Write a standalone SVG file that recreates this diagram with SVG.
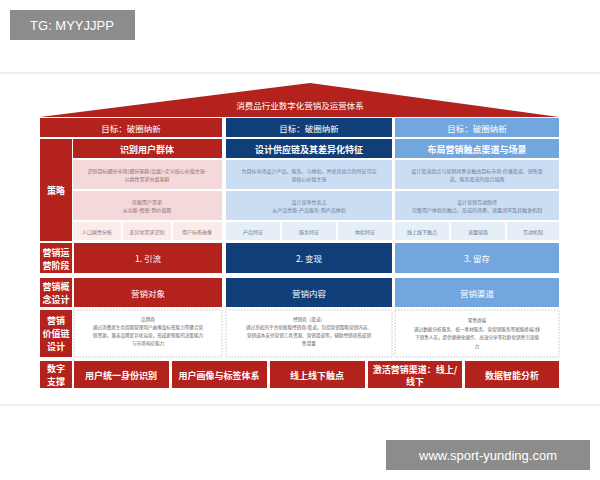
<svg xmlns="http://www.w3.org/2000/svg" width="600" height="480" viewBox="0 0 600 480">
<style>
text{font-family:"Noto Sans CJK SC","Liberation Sans",sans-serif;text-anchor:middle;dominant-baseline:central}
.r{fill:#b3221d}.n{fill:#103e78}.b{fill:#72a6de}
.w{fill:#fff;font-weight:bold;font-size:9px}
.h{fill:#fff;font-size:8.5px}
.s{font-size:5px;fill:#8a6f70}
.sb{font-size:5px;fill:#6d7f95}
.pk{fill:#f5d8d9}.pk2{fill:#fbecec}.lb{fill:#cbddf3}.lb2{fill:#e6eef8}.lb3{fill:#dce8f6}
.d{fill:#fff;stroke:#b8b8b8;stroke-width:0.8;stroke-dasharray:1.5 1.5}
.vt{font-size:4.6px;fill:#666}
</style>
<rect width="600" height="480" fill="#fff"/>
<line x1="0" y1="73" x2="600" y2="73" stroke="#ddd"/>
<line x1="0" y1="405" x2="600" y2="405" stroke="#ddd"/>
<g id="roof"><polygon points="40,117 310,83 559,117" class="r"/><text x="300" y="105" class="h" font-size="7">消费品行业数字化营销及运营体系</text></g>
<g id="goals">
<rect x="40" y="118" width="182" height="19" class="r"/><text x="131" y="128" class="h">目标：破圈纳新</text>
<rect x="226" y="118" width="166" height="19" class="n"/><text x="309" y="128" class="h">目标：破圈纳新</text>
<rect x="395" y="118" width="164" height="19" class="b"/><text x="477" y="128" class="h">目标：破圈纳新</text>
</g>
<g id="strategy">
<rect x="40" y="139" width="32" height="102" class="r"/><text x="56" y="190" class="w">策略</text>
<rect x="73" y="139" width="149" height="19" class="r"/><text x="147" y="149" class="w">识别用户群体</text>
<rect x="73" y="160" width="149" height="29" class="pk"/>
<text x="147" y="170" class="s">识别目标细分市场(细分客群/品类)-定义核心价值主张-</text><text x="147" y="178" class="s">以共性需求分类客群</text>
<rect x="73" y="191" width="149" height="29" class="pk"/>
<text x="147" y="201" class="s">挖掘用户需求</text><text x="147" y="209" class="s">从功能-情感-到价值观</text>
<rect x="73" y="222" width="48" height="18" class="pk2"/><text x="97" y="231" class="s">人口属性分析</text>
<rect x="123" y="222" width="48" height="18" class="pk2"/><text x="147" y="231" class="s">差异化需求识别</text>
<rect x="173" y="222" width="49" height="18" class="pk2"/><text x="197" y="231" class="s">用户标签画像</text>
<rect x="226" y="139" width="166" height="19" class="n"/><text x="309" y="149" class="w">设计供应链及其差异化特征</text>
<rect x="226" y="160" width="166" height="29" class="lb"/>
<text x="309" y="170" class="sb">为目标市场设计产品、服务、与体验，并使其组合的特征可实</text><text x="309" y="178" class="sb">现核心价值主张</text>
<rect x="226" y="191" width="166" height="29" class="lb"/>
<text x="309" y="201" class="sb">设计竞争性卖点</text><text x="309" y="209" class="sb">从产品性能-产品服务-到产品体验</text>
<rect x="226" y="222" width="54" height="18" class="lb2"/><text x="253" y="231" class="sb">产品特征</text>
<rect x="282" y="222" width="54" height="18" class="lb2"/><text x="309" y="231" class="sb">服务特征</text>
<rect x="338" y="222" width="54" height="18" class="lb2"/><text x="365" y="231" class="sb">体验特征</text>
<rect x="395" y="139" width="164" height="19" class="b"/><text x="477" y="149" class="w">布局营销触点渠道与场景</text>
<rect x="395" y="160" width="164" height="29" class="lb"/>
<text x="477" y="170" class="sb">设计渠道组合与营销场景来触达目标市场-传播渠道、销售渠</text><text x="477" y="178" class="sb">道、服务渠道的组合链路</text>
<rect x="395" y="191" width="164" height="29" class="lb"/>
<text x="477" y="201" class="sb">设计营销互动路径</text><text x="477" y="209" class="sb">完整用户体验的触点、形成的场景、流量闭环及其触发机制</text>
<rect x="395" y="222" width="54" height="18" class="lb2"/><text x="422" y="231" class="sb">线上线下触点</text>
<rect x="451" y="222" width="54" height="18" class="lb2"/><text x="478" y="231" class="sb">流量链路</text>
<rect x="507" y="222" width="52" height="18" class="lb2"/><text x="533" y="231" class="sb">互动机制</text>
</g>
<g id="stage">
<rect x="40" y="243" width="32" height="30" class="r"/><text x="56" y="252" class="w">营销运</text><text x="56" y="265" class="w">营阶段</text>
<rect x="74" y="243" width="148" height="30" class="r"/><text x="148" y="258" class="h">1. 引流</text>
<rect x="226" y="243" width="166" height="30" class="n"/><text x="309" y="258" class="h">2. 变现</text>
<rect x="395" y="243" width="164" height="30" class="b"/><text x="477" y="258" class="h">3. 留存</text>
</g>
<g id="concept">
<rect x="40" y="278" width="32" height="29" class="r"/><text x="56" y="286" class="w">营销概</text><text x="56" y="299" class="w">念设计</text>
<rect x="74" y="278" width="148" height="29" class="r"/><text x="148" y="293" class="h">营销对象</text>
<rect x="226" y="278" width="166" height="29" class="n"/><text x="309" y="293" class="h">营销内容</text>
<rect x="395" y="278" width="164" height="29" class="b"/><text x="477" y="293" class="h">营销渠道</text>
</g>
<g id="valuechain">
<rect x="40" y="310" width="32" height="47" class="r"/><text x="56" y="320" class="w">营销</text><text x="56" y="333" class="w">价值链</text><text x="56" y="346" class="w">设计</text>
<rect x="74" y="310" width="148" height="47" class="d"/>
<text x="148" y="319" class="vt">品牌商</text><text x="148" y="327" class="vt">通过消费者生命周期管理用户画像及标签能力等聚合营</text><text x="148" y="335" class="vt">销资源，兼容品牌差异化运营，形成更智能的决策能力</text><text x="148" y="343" class="vt">与市场响应能力</text>
<rect x="226" y="310" width="166" height="47" class="d"/>
<text x="309" y="319" class="vt">经销商（渠道）</text><text x="309" y="327" class="vt">通过系统的平台化赋能经销商/渠道，包括营销策略营销内容、</text><text x="309" y="335" class="vt">营销成本支持营销工具资源、营销渠道等，辅助经销商形成销</text><text x="309" y="343" class="vt">售增量</text>
<rect x="395" y="310" width="164" height="47" class="d"/>
<text x="477" y="320" class="vt">零售终端</text><text x="477" y="329" class="vt">通过数据分析服务、统一素材服务、营促销服务等赋能终端/线</text><text x="477" y="337" class="vt">下销售人员，提供便捷化操作、高效分享等社群化销售引流能</text><text x="477" y="346" class="vt">力</text>
</g>
<g id="digital">
<rect x="40" y="361" width="32" height="27" class="r"/><text x="56" y="368" class="w">数字</text><text x="56" y="381" class="w">支撑</text>
<rect x="74" y="361" width="95" height="27" class="r"/><text x="121" y="375" class="w">用户统一身份识别</text>
<rect x="172" y="361" width="95" height="27" class="r"/><text x="219" y="375" class="w">用户画像与标签体系</text>
<rect x="270" y="361" width="95" height="27" class="r"/><text x="317" y="375" class="w">线上线下触点</text>
<rect x="368" y="361" width="94" height="27" class="r"/><text x="415" y="369" class="w">激活营销渠道：线上/</text><text x="415" y="381" class="w">线下</text>
<rect x="465" y="361" width="94" height="27" class="r"/><text x="512" y="375" class="w">数据智能分析</text>
</g>
<g id="wm">
<rect x="10" y="10" width="125" height="30" fill="#8c8c8c"/><text x="72" y="25" fill="#fff" font-size="13" style="font-family:'Liberation Sans',sans-serif">TG: MYYJJPP</text>
<rect x="386" y="440" width="204" height="30" fill="#8c8c8c"/><text x="488" y="455" fill="#fff" font-size="13" style="font-family:'Liberation Sans',sans-serif">www.sport-yunding.com</text>
</g>
</svg>
